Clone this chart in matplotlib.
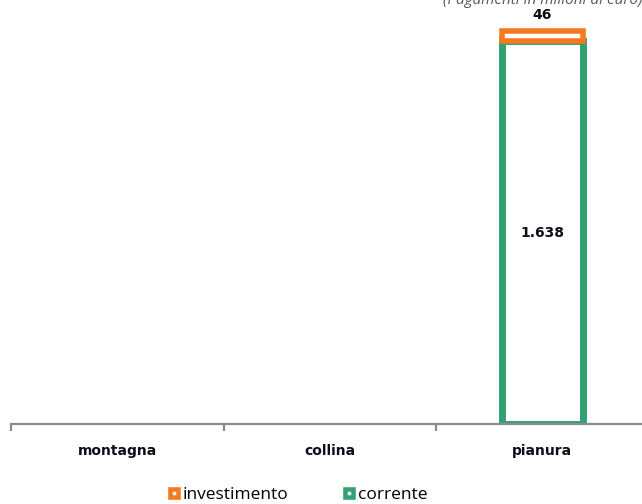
import numpy as np
import matplotlib.pyplot as plt
from matplotlib.lines import Line2D

categories = ['montagna', 'collina', 'pianura']
corrente = [0, 0, 1638]
investimento = [0, 0, 46]
value_labels = ['', '', '1.638']
top_labels = ['', '', '46']

orange = '#f47a20'
green = '#33a272'
axis_gray = '#8c8c8c'

fig = plt.figure(figsize=(6.42, 5.04), dpi=100)
ax = fig.add_axes([11 / 642, 1 - 424 / 504, 637.5 / 642, 424 / 504])

x = np.arange(len(categories))
w = 0.38
cor = np.array(corrente)
inv = np.array(investimento)
for i in x:
    if cor[i] > 0:
        ax.bar(i, cor[i], w, color='white', edgecolor=green, linewidth=5.0, zorder=2)
    if inv[i] > 0:
        ax.bar(i, inv[i], w, bottom=cor[i], color='white', edgecolor=orange,
               linewidth=4.0, zorder=3)
    if value_labels[i]:
        ax.text(i, cor[i] / 2, value_labels[i], ha='center', va='center',
                fontsize=10, fontweight='bold', color='#0d0d1a')
    if top_labels[i]:
        ax.text(i, cor[i] + inv[i] + 35, top_labels[i], ha='center', va='bottom',
                fontsize=10, fontweight='bold', color='#0d0d1a')

ax.set_xlim(-0.5, 2.5)
ax.set_ylim(0, 1815)
for s in ['top', 'right', 'left']:
    ax.spines[s].set_visible(False)
ax.spines['bottom'].set_color(axis_gray)
ax.spines['bottom'].set_linewidth(1.6)
ax.set_yticks([])
ax.set_xticks([-0.5, 0.5, 1.5, 2.5])
ax.set_xticklabels([])
ax.tick_params(axis='x', length=5, width=1.6, color=axis_gray, direction='out')
for i, c in enumerate(categories):
    ax.text(i, -114, c, ha='center', va='center', fontsize=10, fontweight='bold',
            color='#0d0d1a', transform=ax.transData, clip_on=False)

fig.text(443 / 642, 1 - 4 / 504, '(Pagamenti in milioni di euro)', ha='left',
         va='baseline', fontsize=11, style='italic', color='#595959', family='Open Sans')

handles = [
    Line2D([], [], linestyle='none', marker='s', markersize=6.2, markerfacecolor='white',
           markeredgecolor=orange, markeredgewidth=3.3),
    Line2D([], [], linestyle='none', marker='s', markersize=6.2, markerfacecolor='white',
           markeredgecolor=green, markeredgewidth=3.3),
]
fig.legend(handles, ['investimento', 'corrente'], loc='center', ncol=2,
           bbox_to_anchor=(298 / 642, 1 - 495 / 504), frameon=False,
           prop={'family': 'Open Sans', 'size': 12.5}, handlelength=0.6,
           handletextpad=0.2, columnspacing=3.2)

fig.savefig('out.png', dpi=100)
